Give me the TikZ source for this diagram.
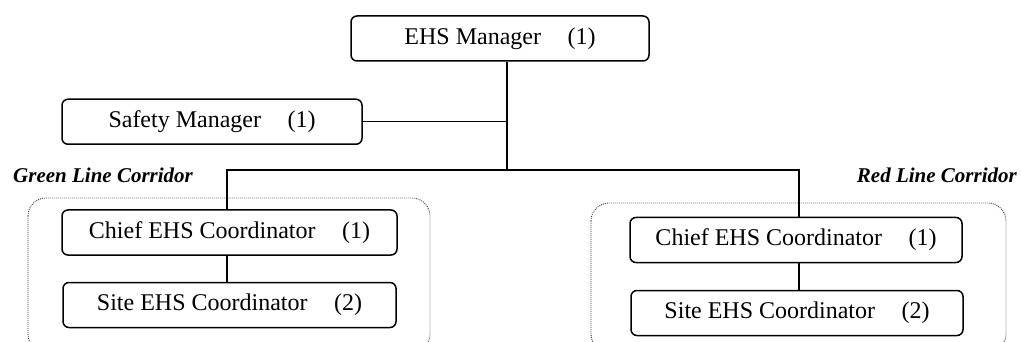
\documentclass[tikz,border=0pt]{standalone}
\usepackage{fontspec}
\setmainfont{Liberation Serif}
\begin{document}
\begin{tikzpicture}[x=1pt,y=-1pt,
  orgbox/.style={draw, line width=1.5pt, rounded corners=6pt, minimum height=45pt, inner sep=0pt,
    font=\fontsize{24}{28}\selectfont},
  conn/.style={line width=1.5pt},
  corridor/.style={draw=black!80, line width=0.9pt, dash pattern=on 0.9pt off 1.1pt, rounded corners=18pt},
  corrlabel/.style={font=\fontsize{21}{25}\selectfont\bfseries\itshape, inner sep=0pt}]
\clip (0,0) rectangle (1021,342);
\fill[white] (0,0) rectangle (1021,342);
% corridors
\draw[corridor] (28,198) rectangle (430,352);
\draw[corridor] (591,203) rectangle (1006,352);
\node[corrlabel, anchor=base west] (glabel) at (13,183) {Green Line Corridor};
\node[corrlabel, anchor=base east] (rlabel) at (1017,183) {Red Line Corridor};
% boxes
\node[orgbox, minimum width=298pt] (ehs) at (500,38.5) {EHS Manager\hspace{1.1em}(1)};
\node[orgbox, minimum width=300pt] (safety) at (212,121.75) {Safety Manager\hspace{1.1em}(1)};
\node[orgbox, minimum width=335pt] (gchief) at (229.5,232.5) {Chief EHS Coordinator\hspace{1.1em}(1)};
\node[orgbox, minimum width=333pt] (gsite) at (229.5,305) {Site EHS Coordinator\hspace{1.1em}(2)};
\node[orgbox, minimum width=332pt] (rchief) at (796,240) {Chief EHS Coordinator\hspace{1.1em}(1)};
\node[orgbox, minimum width=332pt] (rsite) at (797,313) {Site EHS Coordinator\hspace{1.1em}(2)};
% junctions
\coordinate (J) at (507,170);
\coordinate (gl) at (227,170);
\coordinate (rl) at (799,170);
% connectors
\draw[conn] (ehs.south -| J) -- (J);
\draw[conn] (safety.east) -- (safety.east -| J);
\draw[conn] (gchief.north -| gl) -- (gl) -- (rl) -- (rchief.north -| rl);
\draw[conn] (gchief.south -| gl) -- (gsite.north -| gl);
\draw[conn] (rchief.south -| rl) -- (rsite.north -| rl);
\end{tikzpicture}
\end{document}
